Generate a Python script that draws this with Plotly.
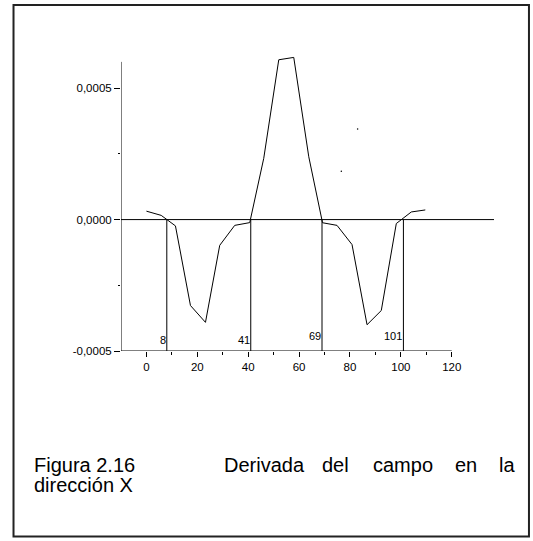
import plotly.graph_objects as go

# ---- data ----
x_vals = [0, 5.8, 11.4, 17.3, 23.2, 28.8, 34.7, 40.6, 46.1, 52.0, 57.9, 63.8,
          69.2, 74.9, 80.8, 86.7, 92.3, 98.2, 104.1, 109.6]
y_vals = [3.2e-5, 1.6e-5, -2.4e-5, -3.27e-4, -3.91e-4, -9.8e-5, -2.2e-5, -1.15e-5,
          2.33e-4, 6.08e-4, 6.17e-4, 2.39e-4, -1.2e-5, -2.2e-5, -9.5e-5, -4.0e-4,
          -3.46e-4, -1.5e-5, 2.9e-5, 3.67e-5]
zero_cross_x = [8, 41, 69, 101]
zero_cross_labels = ["8", "41", "69", "101"]
stray_x = [83.0, 76.6]
stray_y = [3.45e-4, 1.84e-4]
x_tickvals = [0, 20, 40, 60, 80, 100, 120]
x_ticktext = ["0", "20", "40", "60", "80", "100", "120"]
x_minor = [10, 30, 50, 70, 90, 110]
y_tickvals = [-0.0005, 0.0, 0.0005]
y_ticktext = ["-0,0005", "0,0000", "0,0005"]
y_minor = [-0.00025, 0.00025]
caption_left = ["Figura 2.16", "dirección X"]
caption_words = ["Derivada", "del", "campo", "en", "la"]

# ---- geometry (pixels) ----
W, H = 533, 541
XMIN, XMAX = -10.0, 136.6
YMIN, YMAX = -0.0005, 0.00063
YAXIS_TOP = 0.0006
L, R, B = 120.6, 494.0, 350.6
PX_PER_Y = 131.3 / 0.0005
T = B - (YMAX - YMIN) * PX_PER_Y


def px(xp):
    return (xp - L) / (R - L)


def py(yp):
    return (B - yp) / (B - T)


FONT = "Liberation Sans, Arial, sans-serif"

fig = go.Figure()
fig.add_trace(go.Scatter(x=x_vals, y=y_vals, mode="lines",
                         line=dict(color="black", width=1), hoverinfo="skip",
                         showlegend=False))
fig.add_trace(go.Scatter(x=stray_x, y=stray_y, mode="markers",
                         marker=dict(color="black", size=1.5), hoverinfo="skip",
                         showlegend=False))

shapes = []
# zero line across the plot
shapes.append(dict(type="line", xref="paper", yref="y", x0=0, x1=1, y0=0, y1=0,
                   line=dict(color="black", width=1)))
# x axis line from -10 to 120
shapes.append(dict(type="line", xref="x", yref="y", x0=XMIN, x1=120, y0=YMIN, y1=YMIN,
                   line=dict(color="black", width=1)))
# y axis line from -0.0005 to 0.0006
shapes.append(dict(type="line", xref="x", yref="y", x0=XMIN, x1=XMIN, y0=YMIN,
                   y1=YAXIS_TOP, line=dict(color="black", width=1)))
# vertical lines at zero crossings
for xv in zero_cross_x:
    shapes.append(dict(type="line", xref="x", yref="y", x0=xv, x1=xv, y0=0, y1=YMIN,
                       line=dict(color="black", width=1)))
# outer frame
shapes.append(dict(type="rect", xref="paper", yref="paper",
                   x0=px(13), x1=px(529), y0=py(536), y1=py(5),
                   line=dict(color="#222222", width=2), fillcolor="rgba(0,0,0,0)"))

annotations = []
label_yshift = [-120, -120, -116, -116]
for xv, lab, ys in zip(zero_cross_x, zero_cross_labels, label_yshift):
    annotations.append(dict(x=xv, y=0, xref="x", yref="y", text=lab, showarrow=False,
                            xanchor="right", yanchor="middle", xshift=0, yshift=ys,
                            borderpad=0,
                            font=dict(family=FONT, size=11, color="black")))

cap_font = dict(family=FONT, size=20, color="black")
annotations.append(dict(x=px(33), y=py(464), xref="paper", yref="paper",
                        text=caption_left[0], showarrow=False, xanchor="left",
                        yanchor="middle", font=cap_font, borderpad=0))
annotations.append(dict(x=px(33), y=py(484), xref="paper", yref="paper",
                        text=caption_left[1], showarrow=False, xanchor="left",
                        yanchor="middle", font=cap_font, borderpad=0))
word_left = [223, 321, 372, 454, 498]
for w, xl in zip(caption_words, word_left):
    annotations.append(dict(x=px(xl), y=py(464), xref="paper", yref="paper",
                            text=w, showarrow=False, xanchor="left",
                            yanchor="middle", font=cap_font, borderpad=0))

fig.update_layout(
    width=W, height=H,
    margin=dict(l=L, r=W - R, t=T, b=H - B, pad=0),
    paper_bgcolor="white", plot_bgcolor="white",
    shapes=shapes, annotations=annotations,
    showlegend=False,
    font=dict(family=FONT, size=11.5, color="black"),
    xaxis=dict(range=[XMIN, XMAX], showgrid=False, zeroline=False, showline=False,
               tickvals=x_tickvals, ticktext=x_ticktext, ticks="outside",
               ticklen=5, tickwidth=1, tickcolor="black",
               minor=dict(tickvals=x_minor, ticks="outside", ticklen=3,
                          tickwidth=1, tickcolor="black"),
               tickfont=dict(family=FONT, size=11.5, color="black"),
               fixedrange=True),
    yaxis=dict(range=[YMIN, YMAX], showgrid=False, zeroline=False, showline=False,
               tickvals=y_tickvals, ticktext=y_ticktext, ticks="outside",
               ticklen=6, tickwidth=1, tickcolor="black",
               minor=dict(tickvals=y_minor, ticks="outside", ticklen=2,
                          tickwidth=1, tickcolor="black"),
               tickfont=dict(family=FONT, size=11.5, color="black"),
               fixedrange=True),
)

fig.write_html("out.html", config={"displayModeBar": False})
